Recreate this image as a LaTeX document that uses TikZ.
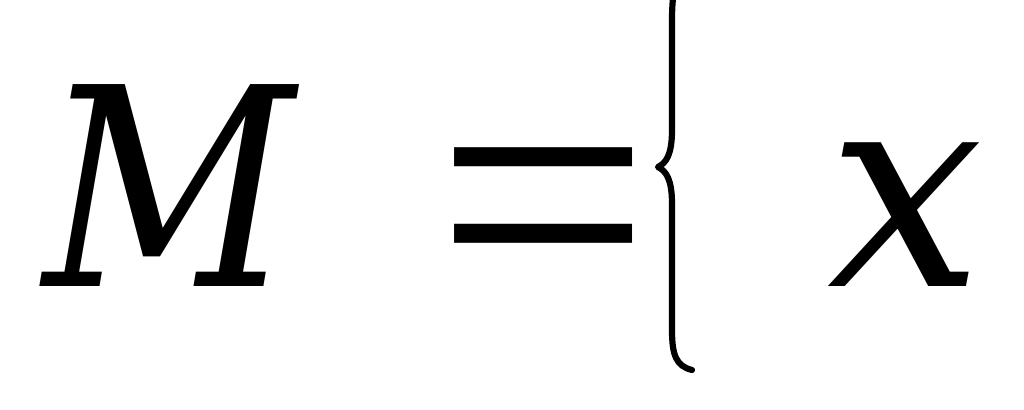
\documentclass[tikz,border=0pt]{standalone}
\usepackage{fontspec}
\setmainfont{DejaVu Serif}
\newfontfamily\eqfont{Liberation Serif}
\usepackage{tikz}
\usetikzlibrary{positioning}

\begin{document}
\begin{tikzpicture}[x=0.025cm, y=-0.025cm,
  glyph/.style={inner sep=0pt, outer sep=0pt, font=\fontsize{197}{200}\selectfont\itshape},
  bracepath/.style={line width=4.4pt, line cap=round, line join=round}]
  \useasboundingbox (0,0) rectangle (1024,409);
  % Formula
  \node[glyph, xscale=0.885, anchor=base] (lhs) at (169,286) {M};
  \node[glyph, font=\fontsize{272}{275}\selectfont\eqfont, anchor=center] (eq) at (543,235) {=};
  \node[glyph, anchor=base] (var) at (906,286) {x};
  % Brace
  \draw[bracepath] (692,-36) .. controls (676,-30) and (672,-10) .. (672,20)
    -- (672,130) .. controls (672,155) and (666,163) .. (658,167)
    .. controls (666,171) and (672,179) .. (672,204)
    -- (672,330) .. controls (672,355) and (676,366) .. (692,370);
\end{tikzpicture}
\end{document}
